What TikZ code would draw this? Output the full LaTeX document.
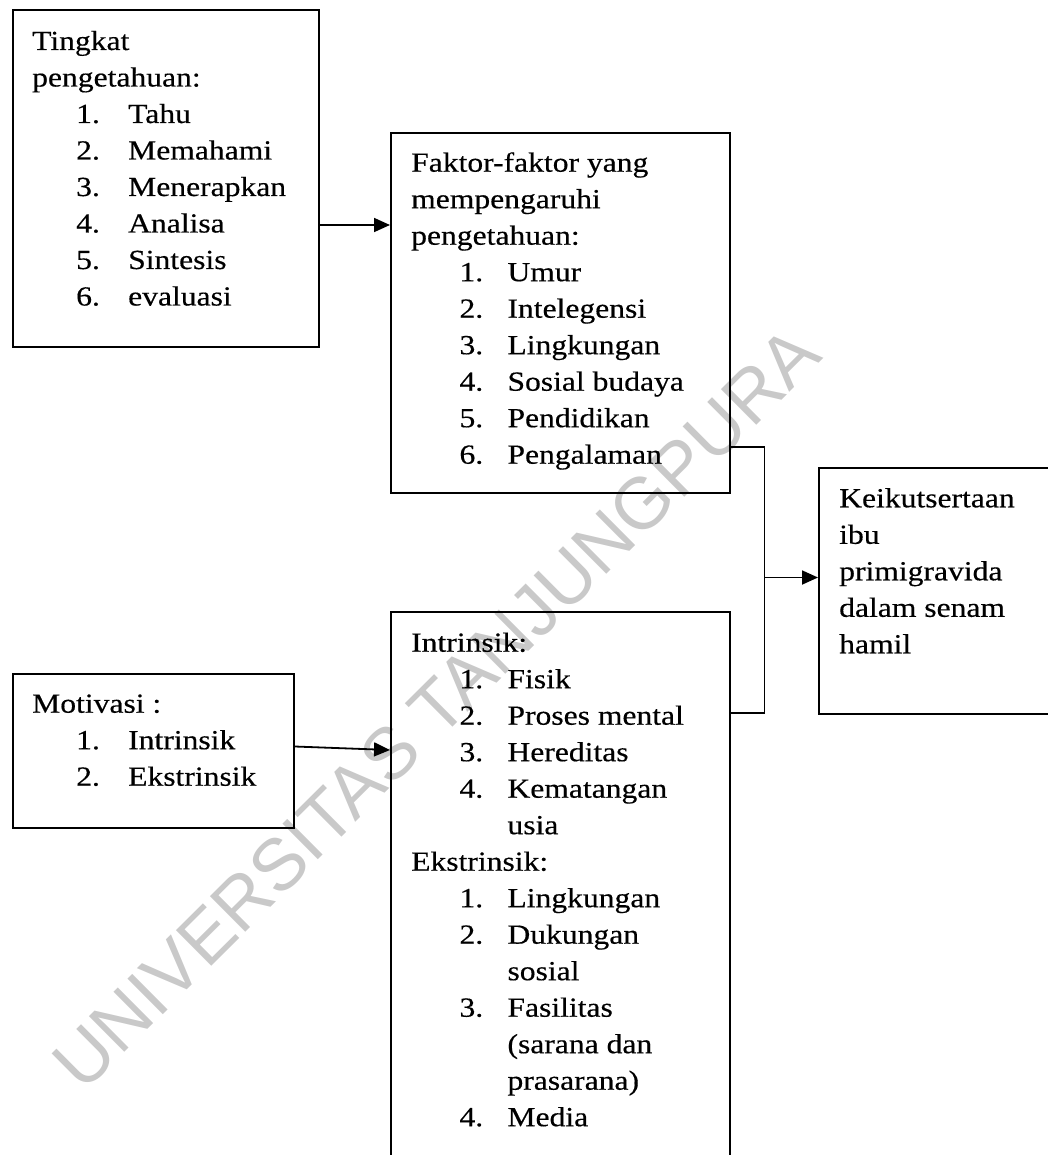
\documentclass[tikz,border=0pt]{standalone}
\usepackage{fontspec}
\setmainfont{Liberation Serif}[FakeStretch=1.145,FakeBold=0.4]
\newfontfamily\wmfont{Liberation Sans}
\usetikzlibrary{arrows.meta,calc}
\newcommand\tline[1]{\hbox{#1}}
\newcommand\itemA[2]{\hbox{\hspace*{44pt}\makebox[52pt][l]{#1}#2}}
\newcommand\itemB[2]{\hbox{\hspace*{48.3pt}\makebox[48pt][l]{#1}#2}}
\newcommand\contl[1]{\hbox{\hspace*{96.3pt}#1}}
\tikzset{
  boxnode/.style={draw, line width=1.8pt, inner sep=0, anchor=north west},
  txt/.style={anchor=base west, inner sep=0, font=\fontsize{27.6}{36.5}\selectfont},
  arr/.style={line width=1.8pt, -{Triangle[length=16pt,width=14pt]}},
  ln/.style={line width=1.8pt},
  wm/.style={text=black!21, font=\wmfont\fontsize{73}{73}\selectfont, inner sep=0}
}
\begin{document}
\begin{tikzpicture}[x=1pt,y=-1pt]
\useasboundingbox (0,0) rectangle (1048,1155);
\clip (0,0) rectangle (1048,1155);
% watermark
\node[wm, rotate=44.8] (wmark) at (436,708) {UNIVERSITAS TANJUNGPURA};
% boxes
\node[boxnode, minimum width=306.3pt, minimum height=337pt] (b1) at (11.7,9) {};
\node[boxnode, minimum width=339pt, minimum height=360pt] (b2) at (390,132) {};
\node[boxnode, minimum width=250pt, minimum height=246pt] (b3) at (818,467) {};
\node[boxnode, minimum width=281pt, minimum height=154pt] (b5) at (12,673) {};
\node[boxnode, minimum width=339pt, minimum height=570pt] (b4) at (390,611) {};
% texts
\node[txt] (t1) at ($(b1.north west)+(20.3,41)$) {\vtop{%
  \tline{Tingkat}\tline{pengetahuan:}%
  \itemA{1.}{Tahu}\itemA{2.}{Memahami}\itemA{3.}{Menerapkan}%
  \itemA{4.}{Analisa}\itemA{5.}{Sintesis}\itemA{6.}{evaluasi}}};
\node[txt] (t2) at ($(b2.north west)+(21,39.7)$) {\vtop{%
  \tline{Faktor-faktor yang}\tline{mempengaruhi}\tline{pengetahuan:}%
  \itemB{1.}{Umur}\itemB{2.}{Intelegensi}\itemB{3.}{Lingkungan}%
  \itemB{4.}{Sosial budaya}\itemB{5.}{Pendidikan}\itemB{6.}{Pengalaman}}};
\node[txt] (t3) at ($(b3.north west)+(21,40.3)$) {\vtop{%
  \tline{Keikutsertaan}\tline{ibu}\tline{primigravida}\tline{dalam senam}\tline{hamil}}};
\node[txt] (t5) at ($(b5.north west)+(20,39.7)$) {\vtop{%
  \tline{Motivasi :}\itemA{1.}{Intrinsik}\itemA{2.}{Ekstrinsik}}};
\node[txt] (t4) at ($(b4.north west)+(21,40.7)$) {\vtop{%
  \tline{Intrinsik:}%
  \itemB{1.}{Fisik}\itemB{2.}{Proses mental}\itemB{3.}{Hereditas}%
  \itemB{4.}{Kematangan}\contl{usia}%
  \tline{Ekstrinsik:}%
  \itemB{1.}{Lingkungan}\itemB{2.}{Dukungan}\contl{sosial}%
  \itemB{3.}{Fasilitas}\contl{(sarana dan}\contl{prasarana)}%
  \itemB{4.}{Media}}};
% connectors
\coordinate (ya) at (0,225);
\coordinate (jx) at (764.5,0);
\coordinate (yb) at (0,447);
\coordinate (yc) at (0,713);
\coordinate (yd) at (0,577.5);
\draw[arr] (b1.east |- ya) -- (b2.west |- ya);
\draw[ln] (b2.east |- yb) -- (jx |- yb) -- (jx |- yc) -- (b4.east |- yc);
\draw[arr] (jx |- yd) -- (b3.west |- yd);
\coordinate (ye) at (0,746.5);
\coordinate (yf) at (0,750);
\draw[arr] (b5.east |- ye) -- (b4.west |- yf);
\end{tikzpicture}
\end{document}
